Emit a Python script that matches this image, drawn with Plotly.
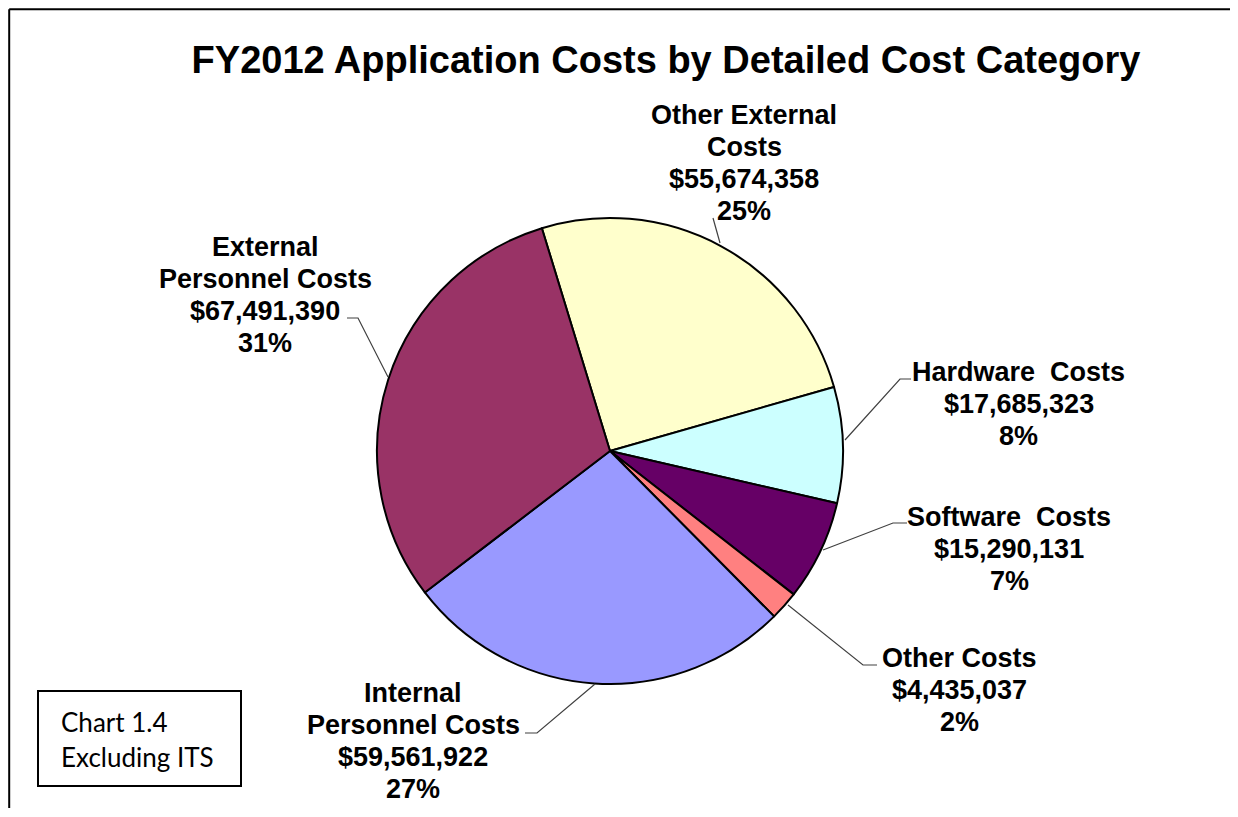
import plotly.graph_objects as go

# ---- data ----
categories = ["Other External Costs", "Hardware Costs", "Software Costs",
              "Other Costs", "Internal Personnel Costs", "External Personnel Costs"]
label_lines = [["Other External", "Costs"], ["Hardware  Costs"], ["Software  Costs"],
               ["Other Costs"], ["Internal", "Personnel Costs"], ["External", "Personnel Costs"]]
values = [55674358, 17685323, 15290131, 4435037, 59561922, 67491390]
colors = ["#FFFFCC", "#CCFFFF", "#660066", "#FF8080", "#9999FF", "#993366"]

title_text = "FY2012 Application Costs by Detailed Cost Category"
note_lines = ["Chart 1.4", "Excluding ITS"]

OFF = 8            # page body margin
W, H = 1230, 800   # figure size that fits the window without scrollbars


def px(x):
    return (x - OFF) / W


def py(y):
    return 1 - (y - OFF) / H


# ---- layout positions (screen pixels) ----
pie_cx, pie_cy, pie_r = 610, 451, 233
label_pos = {
    "Other External Costs": (744, 163),
    "Hardware Costs": (1019, 404),
    "Software Costs": (1009, 549),
    "Other Costs": (959, 690),
    "Internal Personnel Costs": (413, 741),
    "External Personnel Costs": (265, 295),
}
line_step = 32
leader_pts = {
    "Other External Costs": [(720, 243), (713, 218)],
    "Hardware Costs": [(845, 440), (900, 379), (911, 379)],
    "Software Costs": [(823, 550), (893, 523), (907, 523)],
    "Other Costs": [(788, 605), (863, 665), (877, 665)],
    "Internal Personnel Costs": [(595, 684), (537, 733), (525, 733)],
    "External Personnel Costs": [(388, 377), (358, 318), (347, 318)],
}

total = sum(values)

fig = go.Figure()
fig.add_trace(go.Pie(
    labels=categories,
    values=values,
    marker=dict(colors=colors, line=dict(color="black", width=2)),
    sort=False,
    direction="clockwise",
    rotation=-17,
    textinfo="none",
    hoverinfo="label+value+percent",
    showlegend=False,
    domain=dict(x=[px(pie_cx - pie_r), px(pie_cx + pie_r)],
                y=[py(pie_cy + pie_r), py(pie_cy - pie_r)]),
))

annotations = []
shapes = []
lbl_font = dict(family="Liberation Sans, Arial", size=27, color="black", weight="bold")
for cat, lines, v in zip(categories, label_lines, values):
    pct = round(v / total * 100)
    all_lines = list(lines) + [f"${v:,}", f"{pct}%"]
    x, y = label_pos[cat]
    n = len(all_lines)
    for i, ln in enumerate(all_lines):
        yy = y + (i - (n - 1) / 2) * line_step
        annotations.append(dict(
            x=px(x), y=py(yy), xref="paper", yref="paper", text=ln, showarrow=False,
            xanchor="center", yanchor="middle", align="center", font=lbl_font))
    pts = leader_pts[cat]
    path = "M " + " L ".join(f"{px(a)},{py(b)}" for a, b in pts)
    shapes.append(dict(type="path", xref="paper", yref="paper", path=path,
                       line=dict(color="#404040", width=1.2)))

# note box
shapes.append(dict(type="rect", xref="paper", yref="paper",
                   x0=px(38), x1=px(241), y0=py(786), y1=py(691),
                   line=dict(color="black", width=2), fillcolor="white"))
for i, ln in enumerate(note_lines):
    annotations.append(dict(
        x=px(59), y=py(722 + i * 35), xref="paper", yref="paper", text=ln, showarrow=False,
        xanchor="left", yanchor="middle", align="left",
        font=dict(family="Lato, Open Sans", size=26, color="black")))

# outer chart border: only the left and top edges are visible in the picture
edge = OFF + 1.2
shapes.append(dict(type="line", xref="paper", yref="paper",
                   x0=px(edge), x1=px(edge), y0=0, y1=py(edge),
                   line=dict(color="black", width=2)))
shapes.append(dict(type="line", xref="paper", yref="paper",
                   x0=px(edge), x1=1, y0=py(edge), y1=py(edge),
                   line=dict(color="black", width=2)))

fig.update_layout(
    width=W, height=H,
    margin=dict(l=0, r=0, t=0, b=0),
    paper_bgcolor="white", plot_bgcolor="white",
    title=dict(text=title_text, x=px(666), y=py(60), xanchor="center", yanchor="middle",
               font=dict(family="Liberation Sans, Arial", size=38, color="black", weight="bold")),
    annotations=annotations,
    shapes=shapes,
)

fig.write_html("out.html")
